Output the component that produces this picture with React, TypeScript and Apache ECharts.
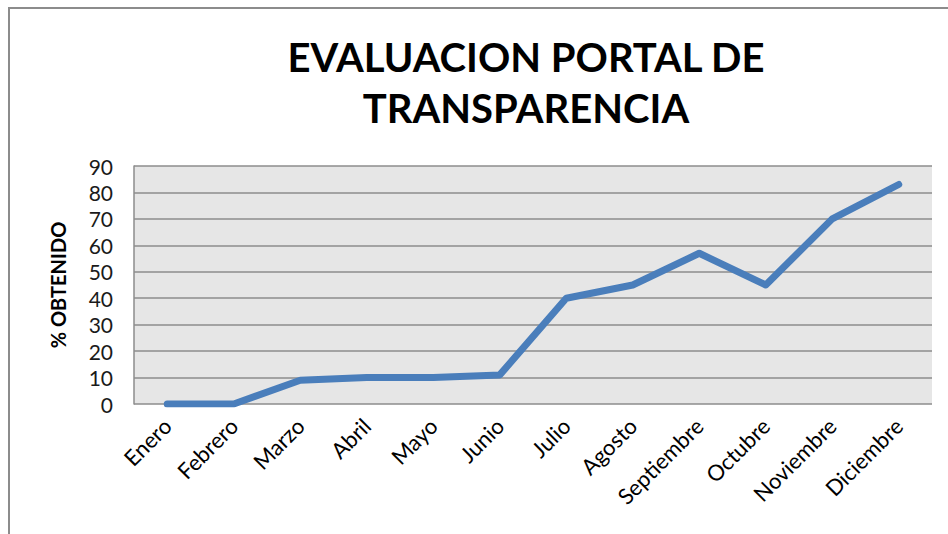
import React, { useEffect, useRef } from "react";
import * as echarts from "echarts";

const categories = ["Enero", "Febrero", "Marzo", "Abril", "Mayo", "Junio", "Julio", "Agosto", "Septiembre", "Octubre", "Noviembre", "Diciembre"];
const values = [0, 0, 9, 10, 10, 11, 40, 45, 57, 45, 70, 83];
const titleLines = ["EVALUACION PORTAL DE", "TRANSPARENCIA"];
const yAxisName = "% OBTENIDO";

export default function App() {
  const ref = useRef<HTMLDivElement>(null);
  useEffect(() => {
    const chart = echarts.init(ref.current!, null, { renderer: "svg" });
    chart.setOption({
      animation: false,
      backgroundColor: "#ffffff",
      title: {
        text: titleLines.join("\n"),
        left: 521,
        top: 26,
        textAlign: "center",
        textStyle: {
          fontFamily: "Lato",
          fontWeight: "bold",
          fontSize: 40,
          lineHeight: 51,
          color: "#000000",
        },
      },
      graphic: [
        {
          type: "rect",
          shape: { x: 9, y: 8, width: 960, height: 540 },
          style: { fill: "none", stroke: "#8c8c8c", lineWidth: 2 },
          silent: true,
        },
      ],
      grid: { left: 134, right: 16, top: 166, bottom: 130, backgroundColor: "#e6e6e6", show: true, borderWidth: 0 },
      xAxis: {
        type: "category",
        data: categories,
        boundaryGap: true,
        axisLine: { show: false },
        axisTick: { show: false },
        axisLabel: {
          rotate: 45,
          fontFamily: "Lato",
          fontSize: 22,
          color: "#000000",
          margin: 18,
          interval: 0,
        },
      },
      yAxis: {
        type: "value",
        min: 0,
        max: 90,
        interval: 10,
        name: yAxisName,
        nameLocation: "middle",
        nameGap: 66,
        nameTextStyle: { fontFamily: "Lato", fontWeight: "bold", fontSize: 20, color: "#000000" },
        axisLine: { show: true, lineStyle: { color: "#8c8c8c", width: 1.5 } },
        axisTick: { show: false },
        splitLine: { show: true, lineStyle: { color: "#8c8c8c", width: 1.5 } },
        axisLabel: { fontFamily: "Lato", fontSize: 21, color: "#1a1a1a", margin: 21 },
      },
      series: [
        {
          type: "line",
          data: values,
          symbol: "none",
          lineStyle: { color: "#4a7ebb", width: 7, cap: "round", join: "round" },
        },
      ],
    });
    return () => chart.dispose();
  }, []);
  return <div ref={ref} style={{ width: 948, height: 534, position: "absolute", left: 0, top: 0 }} />;
}
